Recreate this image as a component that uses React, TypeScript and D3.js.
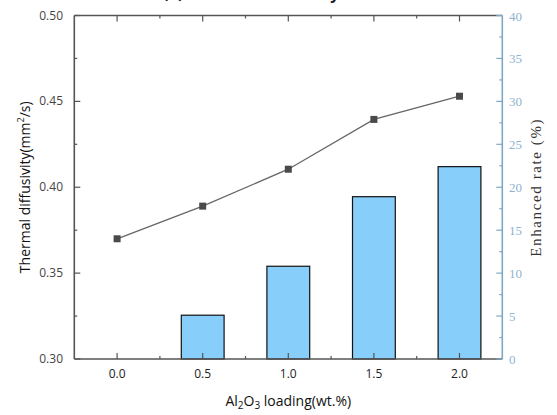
import React from "react";
import * as d3 from "d3";

const categories = ["0.0", "0.5", "1.0", "1.5", "2.0"];
const diffusivity = [0.37, 0.389, 0.4105, 0.4395, 0.453];
const enhancedRate = [0, 5.1, 10.8, 18.9, 22.4];
const leftTicks = [0.3, 0.35, 0.4, 0.45, 0.5];
const leftMinor = [0.325, 0.375, 0.425, 0.475];
const rightTicks = [0, 5, 10, 15, 20, 25, 30, 35, 40];
const rightMinor = [2.5, 7.5, 12.5, 17.5, 22.5, 27.5, 32.5, 37.5];

const W = 557, H = 415;
const L = 74.3, R = 502.3, T = 15.5, B = 359;
const axisGray = "#555";
const blue = "#7ea8c6";
const blueText = "#8fb3cf";

export default function App() {
  const x = d3.scaleBand<string>().domain(categories).range([L, R]).padding(0);
  const yL = d3.scaleLinear().domain([0.3, 0.5]).range([B, T]);
  const yR = d3.scaleLinear().domain([0, 40]).range([B, T]);
  const cx = (c: string) => (x(c) as number) + x.bandwidth() / 2;
  const bw = x.bandwidth() * 0.5;
  const line = d3.line<number>().x((_, i) => cx(categories[i])).y((d) => yL(d));
  const minorX = categories.slice(1).map((c) => x(c) as number);

  return (
    <svg width={W} height={H} style={{ position: "absolute", left: 0, top: 0 }}>
      <rect width={W} height={H} fill="#fff" />
      <text x={163} y={-1} fontFamily="Open Sans" fontWeight="bold" fontSize={16} fill="#222">(a) Thermal diffusivity</text>
      {/* bars */}
      {enhancedRate.map((v, i) =>
        v > 0 ? (
          <rect key={i} x={cx(categories[i]) - bw / 2} y={yR(v)} width={bw} height={B - yR(v)}
            fill="#87cefa" stroke="#111" strokeWidth={1.2} />
        ) : null
      )}
      {/* line */}
      <path d={line(diffusivity) || ""} fill="none" stroke="#666" strokeWidth={1.3} />
      {diffusivity.map((v, i) => (
        <rect key={i} x={cx(categories[i]) - 3.5} y={yL(v) - 3.5} width={7} height={7} fill="#4a4a4a" />
      ))}
      {/* bottom & top axes */}
      <line x1={L} x2={R} y1={B} y2={B} stroke={axisGray} strokeWidth={1.6} />
      <line x1={L} x2={R} y1={T} y2={T} stroke={axisGray} strokeWidth={1.6} />
      {categories.map((c) => (
        <g key={c}>
          <line x1={cx(c)} x2={cx(c)} y1={B} y2={B - 6} stroke={axisGray} strokeWidth={1.2} />
          <line x1={cx(c)} x2={cx(c)} y1={T} y2={T + 6} stroke={axisGray} strokeWidth={1.2} />
          <text x={cx(c)} y={378} textAnchor="middle" fontFamily="Open Sans" fontSize={12} fill="#222">{c}</text>
        </g>
      ))}
      {minorX.map((m, i) => (
        <g key={i}>
          <line x1={m} x2={m} y1={B} y2={B - 3} stroke={axisGray} strokeWidth={1.2} />
          <line x1={m} x2={m} y1={T} y2={T + 3} stroke={axisGray} strokeWidth={1.2} />
        </g>
      ))}
      {/* left axis */}
      <line x1={L} x2={L} y1={T} y2={B} stroke={axisGray} strokeWidth={1.6} />
      {leftTicks.map((t) => (
        <g key={t}>
          <line x1={L} x2={L + 6} y1={yL(t)} y2={yL(t)} stroke={axisGray} strokeWidth={1.2} />
          <text x={63} y={yL(t) + 4} textAnchor="end" fontFamily="Open Sans" fontSize={12} fill="#444">{t.toFixed(2)}</text>
        </g>
      ))}
      {leftMinor.map((t) => (
        <line key={t} x1={L} x2={L + 3} y1={yL(t)} y2={yL(t)} stroke={axisGray} strokeWidth={1.2} />
      ))}
      {/* right axis */}
      <line x1={R} x2={R} y1={T} y2={B} stroke={blue} strokeWidth={1.6} />
      {rightTicks.map((t) => (
        <g key={t}>
          <line x1={R} x2={R - 6} y1={yR(t)} y2={yR(t)} stroke={blue} strokeWidth={1.2} />
          <text x={509} y={yR(t) + 5} fontFamily="Liberation Serif" fontSize={13} fill={blueText}>{t}</text>
        </g>
      ))}
      {rightMinor.map((t) => (
        <line key={t} x1={R} x2={R - 3} y1={yR(t)} y2={yR(t)} stroke={blue} strokeWidth={1.2} />
      ))}
      {/* titles */}
      <text x={(L + R) / 2} y={406} textAnchor="middle" fontFamily="Open Sans" fontSize={14} fill="#111">
        Al<tspan fontSize={10} dy={3}>2</tspan><tspan dy={-3}>O</tspan><tspan fontSize={10} dy={3}>3</tspan><tspan dy={-3}> loading(wt.%)</tspan>
      </text>
      <text transform={`translate(30,${(T + B) / 2}) rotate(-90)`} textAnchor="middle" fontFamily="Open Sans" fontSize={14} fill="#111">
        Thermal diffusivity(mm<tspan fontSize={9} dy={-6}>2</tspan><tspan dy={6}>/s)</tspan>
      </text>
      <text transform={`translate(541,${(T + B) / 2}) rotate(-90)`} textAnchor="middle" fontFamily="Liberation Serif" fontSize={15} letterSpacing={1.6} fill="#333">
        Enhanced rate (%)
      </text>
    </svg>
  );
}
